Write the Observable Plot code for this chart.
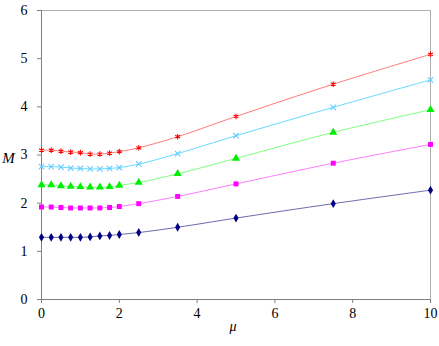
<!DOCTYPE html>
<html>
<head>
<meta charset="utf-8">
<script src="https://cdn.jsdelivr.net/npm/d3@7"></script>
<script src="https://cdn.jsdelivr.net/npm/@observablehq/plot@0.6"></script>
<style>
  html, body { margin: 0; padding: 0; background: white; }
</style>
</head>
<body>
<div id="chart"></div>
<script>
const mu = [0, 0.25, 0.5, 0.75, 1, 1.25, 1.5, 1.75, 2, 2.5, 3.5, 5, 7.5, 10];
const seriesA = [3.10, 3.10, 3.08, 3.06, 3.05, 3.02, 3.02, 3.04, 3.07, 3.15, 3.38, 3.80, 4.47, 5.09];
const seriesB = [2.76, 2.76, 2.75, 2.73, 2.72, 2.71, 2.71, 2.72, 2.74, 2.81, 3.03, 3.40, 3.99, 4.56];
const seriesC = [2.38, 2.38, 2.36, 2.35, 2.34, 2.33, 2.33, 2.34, 2.37, 2.43, 2.61, 2.93, 3.47, 3.94];
const seriesD = [1.92, 1.92, 1.91, 1.90, 1.90, 1.90, 1.90, 1.91, 1.93, 1.99, 2.14, 2.40, 2.83, 3.22];
const seriesE = [1.29, 1.29, 1.29, 1.29, 1.29, 1.30, 1.32, 1.33, 1.35, 1.39, 1.50, 1.69, 1.99, 2.27];
const xTicks = [0, 2, 4, 6, 8, 10];
const yTicks = [0, 1, 2, 3, 4, 5, 6];

const series = [
  {values: seriesA, line: "#ff7b7b", dot: "#ff0000", symbol: "asterisk", r: 2.6},
  {values: seriesB, line: "#66d9ff", dot: "#66ccff", symbol: "times", r: 2.6},
  {values: seriesC, line: "#7dff7d", dot: "#00ee00", symbol: "triangle", r: 3.0},
  {values: seriesD, line: "#ff7bff", dot: "#ff00ff", symbol: "square", r: 2.8},
  {values: seriesE, line: "#6a6aae", dot: "#000080", symbol: "diamond", r: 2.7}
];

const FONT = "'Liberation Serif', 'DejaVu Serif', serif";

const marks = [
  Plot.ruleY([6], {stroke: "#b0b0b0"}),
  Plot.ruleX([10], {stroke: "#b0b0b0"}),
  Plot.ruleY([0], {stroke: "#808080"}),
  Plot.ruleX([0], {stroke: "#808080"}),
  Plot.axisX({ticks: xTicks, tickSize: 4, tickPadding: 5, stroke: "#808080", fill: "black", label: null, tickFormat: d => String(d), fontFamily: FONT}),
  Plot.axisY({ticks: yTicks, tickSize: 4, tickPadding: 10, stroke: "#808080", fill: "black", label: null, tickFormat: d => String(d), fontFamily: FONT})
];

for (const s of series) {
  const data = mu.map((x, i) => ({x, y: s.values[i]}));
  marks.push(Plot.line(data, {x: "x", y: "y", stroke: s.line, strokeWidth: 1, curve: "catmull-rom"}));
  const isStroke = s.symbol === "asterisk" || s.symbol === "times";
  marks.push(Plot.dot(data, isStroke
    ? {x: "x", y: "y", symbol: s.symbol, r: s.r, stroke: s.dot, strokeWidth: 1.1}
    : {x: "x", y: "y", symbol: s.symbol, r: s.r, fill: s.dot, stroke: "none"}));
}

marks.push(Plot.text(["M"], {frameAnchor: "left", dx: -33, dy: 3, text: d => d, fontStyle: "italic", fontSize: 15, fontFamily: FONT, fill: "black", textAnchor: "middle"}));
marks.push(Plot.text(["μ"], {frameAnchor: "bottom", dx: -3, dy: 31, text: d => d, fontStyle: "italic", fontSize: 14, fontFamily: FONT, fill: "black", textAnchor: "middle"}));

const chart = Plot.plot({
  width: 439,
  height: 346,
  marginLeft: 41,
  marginRight: 9,
  marginTop: 10,
  marginBottom: 47,
  x: {domain: [0, 10]},
  y: {domain: [0, 6]},
  style: {fontSize: "14px", background: "white", color: "black", fontFamily: FONT},
  marks
});
document.getElementById("chart").appendChild(chart);
</script>
</body>
</html>
